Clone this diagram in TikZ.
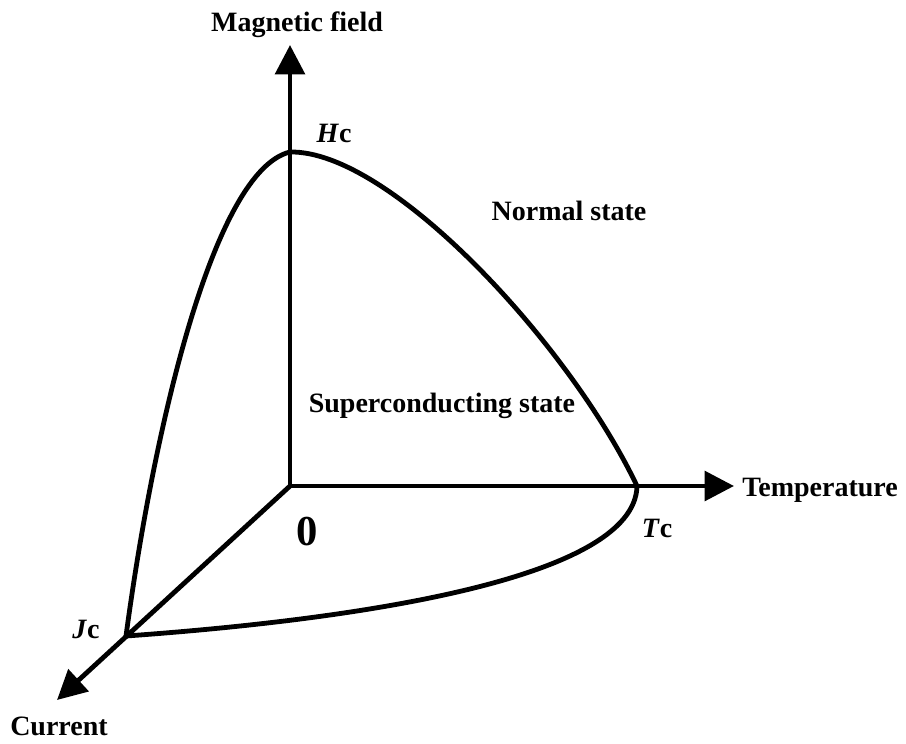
\documentclass[tikz,border=0pt]{standalone}
\usepackage{fontspec}
\setmainfont{Liberation Serif}
\usetikzlibrary{arrows.meta}
\begin{document}
\begin{tikzpicture}[x=0.75pt,y=-0.75pt,
  bigtri/.tip={Triangle[length=22pt,width=22pt]},
  axisline/.style={line width=3.6pt, line join=miter},
  curveline/.style={line width=3.6pt, line cap=round},
  lbl/.style={font=\fontsize{21}{25}\selectfont\bfseries, inner sep=0pt}]
\useasboundingbox (0,0) rectangle (906,743);
% key points
\coordinate (O) at (290,486);
\coordinate (vtip) at (290,45);
\coordinate (htip) at (734,486);
\coordinate (ctip) at (57,700);
\coordinate (Hcp) at (290,152);
\coordinate (Tcp) at (637,486);
\coordinate (Jcp) at (126,636);
% axes
\draw[axisline, bigtri-bigtri] (vtip) -- (O) -- (htip);
\draw[axisline, -bigtri] (O) -- (ctip);
% critical surface edges
\draw[curveline] (Jcp) .. controls (155,420) and (215,170) .. (Hcp);
\draw[curveline] (Hcp) .. controls (390,150) and (570,345) .. (Tcp);
\draw[curveline] (Tcp) .. controls (635,580) and (350,620) .. (Jcp);
% labels
\node[lbl] (mf) at (297,25) {Magnetic field};
\node[lbl, anchor=west] (temp) at (742,490) {Temperature};
\node[lbl] (cur) at (59,726) {Current};
\node[lbl] (hc) at (334,133) {\textit{H}c};
\node[lbl] (tc) at (657,528) {\textit{T}c};
\node[lbl] (jc) at (86,629) {\textit{J}c};
\node[lbl, font=\fontsize{32}{36}\selectfont\bfseries] (zero) at (307,532) {0};
\node[lbl] (sc) at (442,406) {Superconducting state};
\node[lbl] (ns) at (569,211) {Normal state};
\end{tikzpicture}
\end{document}
